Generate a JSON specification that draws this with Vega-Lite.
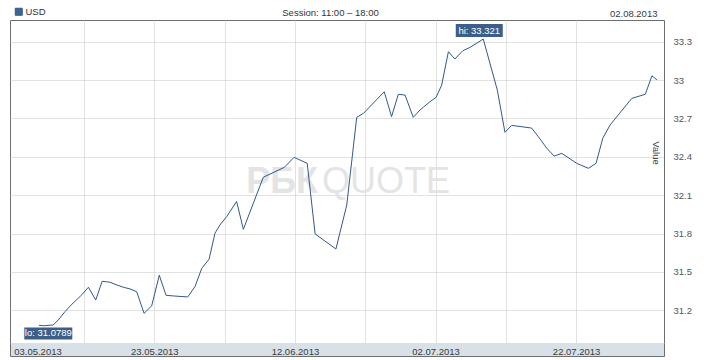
{
  "$schema": "https://vega.github.io/schema/vega-lite/v6.json",
  "width": 654,
  "height": 323,
  "autosize": {"type": "none"},
  "padding": {"left": 10, "top": 20, "right": 54, "bottom": 17},
  "background": "#ffffff",
  "title": {"text": "Session: 11:00 – 18:00", "frame": "group", "anchor": "middle", "fontSize": 9.5, "fontWeight": "normal", "color": "#333333", "baseline": "alphabetic", "offset": 4, "dx": -6.5, "dy": 26, "font": "Liberation Sans"},
  "config": {
    "font": "Liberation Sans",
    "view": {"stroke": "#6e6e6e", "strokeWidth": 1, "fill": "#ffffff"},
    "axis": {"labelFontSize": 9.5, "labelColor": "#3a3a3a", "labelFont": "Liberation Sans", "gridColor": "#c4c4c4", "gridDash": [1, 1], "gridWidth": 1, "ticks": false, "domain": false, "labelOverlap": false}
  },
  "datasets": {
    "usd": [
      {"date": "2013-05-06T14:00", "value": 31.083, "series": "USD"},
      {"date": "2013-05-07T05:00", "value": 31.0789, "series": "USD"},
      {"date": "2013-05-08T15:00", "value": 31.085, "series": "USD"},
      {"date": "2013-05-09T08:00", "value": 31.124, "series": "USD"},
      {"date": "2013-05-10T07:00", "value": 31.189, "series": "USD"},
      {"date": "2013-05-11T04:00", "value": 31.241, "series": "USD"},
      {"date": "2013-05-12T16:00", "value": 31.32, "series": "USD"},
      {"date": "2013-05-13T15:00", "value": 31.38, "series": "USD"},
      {"date": "2013-05-14T16:00", "value": 31.28, "series": "USD"},
      {"date": "2013-05-15T14:00", "value": 31.427, "series": "USD"},
      {"date": "2013-05-16T17:00", "value": 31.419, "series": "USD"},
      {"date": "2013-05-17T10:00", "value": 31.403, "series": "USD"},
      {"date": "2013-05-18T14:00", "value": 31.38, "series": "USD"},
      {"date": "2013-05-19T13:00", "value": 31.367, "series": "USD"},
      {"date": "2013-05-20T12:00", "value": 31.345, "series": "USD"},
      {"date": "2013-05-21T13:00", "value": 31.176, "series": "USD"},
      {"date": "2013-05-22T15:00", "value": 31.234, "series": "USD"},
      {"date": "2013-05-23T17:00", "value": 31.474, "series": "USD"},
      {"date": "2013-05-24T16:00", "value": 31.317, "series": "USD"},
      {"date": "2013-05-25T17:00", "value": 31.312, "series": "USD"},
      {"date": "2013-05-27T18:00", "value": 31.304, "series": "USD"},
      {"date": "2013-05-28T19:00", "value": 31.385, "series": "USD"},
      {"date": "2013-05-29T18:00", "value": 31.528, "series": "USD"},
      {"date": "2013-05-30T19:00", "value": 31.599, "series": "USD"},
      {"date": "2013-05-31T15:00", "value": 31.802, "series": "USD"},
      {"date": "2013-06-01T08:00", "value": 31.867, "series": "USD"},
      {"date": "2013-06-02T07:00", "value": 31.932, "series": "USD"},
      {"date": "2013-06-03T17:00", "value": 32.051, "series": "USD"},
      {"date": "2013-06-04T16:00", "value": 31.833, "series": "USD"},
      {"date": "2013-06-07T12:00", "value": 32.24, "series": "USD"},
      {"date": "2013-06-10T12:00", "value": 32.318, "series": "USD"},
      {"date": "2013-06-11T21:00", "value": 32.396, "series": "USD"},
      {"date": "2013-06-13T18:00", "value": 32.349, "series": "USD"},
      {"date": "2013-06-14T21:00", "value": 31.797, "series": "USD"},
      {"date": "2013-06-17T20:00", "value": 31.679, "series": "USD"},
      {"date": "2013-06-19T09:00", "value": 32.023, "series": "USD"},
      {"date": "2013-06-20T19:00", "value": 32.709, "series": "USD"},
      {"date": "2013-06-21T18:00", "value": 32.74, "series": "USD"},
      {"date": "2013-06-24T17:00", "value": 32.909, "series": "USD"},
      {"date": "2013-06-25T18:00", "value": 32.714, "series": "USD"},
      {"date": "2013-06-26T17:00", "value": 32.889, "series": "USD"},
      {"date": "2013-06-27T16:00", "value": 32.883, "series": "USD"},
      {"date": "2013-06-28T20:00", "value": 32.709, "series": "USD"},
      {"date": "2013-06-29T19:00", "value": 32.766, "series": "USD"},
      {"date": "2013-07-01T05:00", "value": 32.831, "series": "USD"},
      {"date": "2013-07-02T02:00", "value": 32.865, "series": "USD"},
      {"date": "2013-07-02T21:00", "value": 32.961, "series": "USD"},
      {"date": "2013-07-03T20:00", "value": 33.222, "series": "USD"},
      {"date": "2013-07-04T18:00", "value": 33.165, "series": "USD"},
      {"date": "2013-07-05T21:00", "value": 33.23, "series": "USD"},
      {"date": "2013-07-06T22:00", "value": 33.256, "series": "USD"},
      {"date": "2013-07-08T19:00", "value": 33.321, "series": "USD"},
      {"date": "2013-07-10T19:00", "value": 32.922, "series": "USD"},
      {"date": "2013-07-11T21:00", "value": 32.592, "series": "USD"},
      {"date": "2013-07-12T20:00", "value": 32.646, "series": "USD"},
      {"date": "2013-07-15T16:00", "value": 32.625, "series": "USD"},
      {"date": "2013-07-16T15:00", "value": 32.557, "series": "USD"},
      {"date": "2013-07-17T20:00", "value": 32.467, "series": "USD"},
      {"date": "2013-07-18T21:00", "value": 32.406, "series": "USD"},
      {"date": "2013-07-19T23:00", "value": 32.427, "series": "USD"},
      {"date": "2013-07-22T02:00", "value": 32.349, "series": "USD"},
      {"date": "2013-07-23T18:00", "value": 32.31, "series": "USD"},
      {"date": "2013-07-24T20:00", "value": 32.349, "series": "USD"},
      {"date": "2013-07-25T19:00", "value": 32.545, "series": "USD"},
      {"date": "2013-07-26T20:00", "value": 32.649, "series": "USD"},
      {"date": "2013-07-29T22:00", "value": 32.857, "series": "USD"},
      {"date": "2013-07-31T20:00", "value": 32.889, "series": "USD"},
      {"date": "2013-08-01T19:00", "value": 33.034, "series": "USD"},
      {"date": "2013-08-02T12:00", "value": 33.001, "series": "USD"}
    ],
    "extremes": [
      {"date": "2013-07-08T19:00", "value": 33.321, "kind": "hi", "label": "hi: 33.321"},
      {"date": "2013-05-07T05:00", "value": 31.0789, "kind": "lo", "label": "lo: 31.0789"}
    ],
    "brand": [
      {"brand": "РБК", "product": "QUOTE"}
    ]
  },
  "layer": [
    {
      "data": {"name": "brand"},
      "mark": {"type": "text", "font": "Liberation Sans Narrow, Liberation Sans", "fontWeight": "bold", "fontSize": 36, "color": "#e4e4e4", "align": "right", "baseline": "middle", "dx": -19},
      "encoding": {"text": {"field": "brand"}}
    },
    {
      "data": {"name": "brand"},
      "mark": {"type": "text", "font": "Liberation Sans Narrow, Liberation Sans", "fontWeight": "normal", "fontSize": 36, "color": "#e4e4e4", "align": "left", "baseline": "middle", "dx": -15},
      "encoding": {"text": {"field": "product"}}
    },
    {
      "data": {"name": "extremes"},
      "transform": [{"filter": "datum.kind == 'hi'"}],
      "mark": {"type": "rect", "width": 47, "height": 13, "xOffset": -4, "yOffset": -8.5, "color": "#3b5f88"},
      "encoding": {
        "x": {"field": "date", "type": "temporal", "scale": {"domain": [{"year": 2013, "month": 5, "date": 2, "hours": 11, "minutes": 22}, {"year": 2013, "month": 8, "date": 3, "hours": 12}], "nice": false},
          "axis": {"orient": "bottom", "offset": 6, "domain": true, "domainColor": "#d8e0e8", "domainWidth": 13, "labels": false, "ticks": false, "grid": false, "title": null}},
        "y": {"field": "value", "type": "quantitative", "scale": {"domain": [30.944, 33.47], "nice": false, "zero": false},
          "axis": {"orient": "right", "values": [31.2, 31.5, 31.8, 32.1, 32.4, 32.7, 33, 33.3], "format": "~g", "grid": false, "labelPadding": 9, "labelAlign": "left", "labelBaseline": "middle", "labelColor": "#555555", "labelFlush": false, "title": "Value", "titleAngle": 90, "titleX": -8.5, "titleY": 132.5, "titleAlign": "center", "titleBaseline": "middle", "titleFontWeight": "normal", "titleFontSize": 9.5, "titleColor": "#444444", "titleFont": "Liberation Sans"}}
      }
    },
    {
      "data": {"name": "extremes"},
      "transform": [{"filter": "datum.kind == 'lo'"}],
      "mark": {"type": "rect", "width": 48, "height": 12, "xOffset": 5, "yOffset": 7.7, "color": "#3b5f88"},
      "encoding": {
        "x": {"field": "date", "type": "temporal", "scale": {"domain": [{"year": 2013, "month": 5, "date": 2, "hours": 11, "minutes": 22}, {"year": 2013, "month": 8, "date": 3, "hours": 12}], "nice": false},
          "axis": {"orient": "bottom", "offset": 13, "domain": true, "domainColor": "#6e6e6e", "domainWidth": 1, "ticks": true, "tickSize": -13, "tickColor": "#6e6e6e", "values": [{"year": 2013, "month": 5, "date": 2, "hours": 11, "minutes": 22}, {"year": 2013, "month": 8, "date": 3, "hours": 12}], "labels": false, "grid": false, "title": null}},
        "y": {"field": "value", "type": "quantitative", "scale": {"domain": [30.944, 33.47], "nice": false, "zero": false},
          "axis": {"orient": "left", "values": [31.2, 31.5, 31.8, 32.1, 32.4, 32.7, 33, 33.3], "grid": true, "labels": false, "ticks": false, "domain": false, "title": null}}
      }
    },
    {
      "data": {"name": "usd"},
      "mark": {"type": "line", "strokeWidth": 1, "interpolate": "linear"},
      "encoding": {
        "x": {"field": "date", "type": "temporal", "scale": {"domain": [{"year": 2013, "month": 5, "date": 2, "hours": 11, "minutes": 22}, {"year": 2013, "month": 8, "date": 3, "hours": 12}], "nice": false},
          "axis": {"orient": "bottom", "values": [{"year": 2013, "month": 5, "date": 13}, {"year": 2013, "month": 5, "date": 23}, {"year": 2013, "month": 6, "date": 2}, {"year": 2013, "month": 6, "date": 12}, {"year": 2013, "month": 6, "date": 22}, {"year": 2013, "month": 7, "date": 2}, {"year": 2013, "month": 7, "date": 12}, {"year": 2013, "month": 7, "date": 22}], "grid": true, "labels": false, "ticks": false, "title": null}},
        "y": {"field": "value", "type": "quantitative", "scale": {"domain": [30.944, 33.47], "nice": false, "zero": false}, "axis": null},
        "color": {"field": "series", "type": "nominal", "scale": {"range": ["#33598a"]},
          "legend": {"orient": "top", "title": null, "symbolType": "square", "symbolSize": 49, "symbolFillColor": "#3d6590", "symbolStrokeWidth": 1, "labelFontSize": 9.5, "labelColor": "#333333", "labelFont": "Liberation Sans", "labelOffset": 2, "padding": 4, "offset": -13.5}}
      }
    },
    {
      "data": {"name": "extremes"},
      "transform": [{"filter": "datum.kind == 'hi'"}],
      "mark": {"type": "text", "color": "#ffffff", "fontSize": 9.5, "align": "center", "baseline": "middle", "dx": -4, "dy": -8.5},
      "encoding": {
        "x": {"field": "date", "type": "temporal", "scale": {"domain": [{"year": 2013, "month": 5, "date": 2, "hours": 11, "minutes": 22}, {"year": 2013, "month": 8, "date": 3, "hours": 12}], "nice": false},
          "axis": {"orient": "bottom", "values": [{"year": 2013, "month": 5, "date": 3}, {"year": 2013, "month": 5, "date": 23}, {"year": 2013, "month": 6, "date": 12}, {"year": 2013, "month": 7, "date": 2}, {"year": 2013, "month": 7, "date": 22}], "format": "%d.%m.%Y", "labelFlush": 6, "labelPadding": 11, "labelBaseline": "alphabetic", "grid": false, "title": null}},
        "y": {"field": "value", "type": "quantitative", "scale": {"domain": [30.944, 33.47], "nice": false, "zero": false}, "axis": null},
        "text": {"field": "label"}
      }
    },
    {
      "data": {"name": "extremes"},
      "transform": [{"filter": "datum.kind == 'lo'"}],
      "mark": {"type": "text", "color": "#ffffff", "fontSize": 9.5, "align": "center", "baseline": "middle", "dx": 5, "dy": 7.7},
      "encoding": {
        "x": {"field": "date", "type": "temporal", "scale": {"domain": [{"year": 2013, "month": 5, "date": 2, "hours": 11, "minutes": 22}, {"year": 2013, "month": 8, "date": 3, "hours": 12}], "nice": false},
          "axis": {"orient": "top", "values": [{"year": 2013, "month": 8, "date": 2, "hours": 12}], "format": "%d.%m.%Y", "labelAlign": "right", "labelBaseline": "alphabetic", "labelPadding": 4, "labelFlush": false, "grid": false, "title": null}},
        "y": {"field": "value", "type": "quantitative", "scale": {"domain": [30.944, 33.47], "nice": false, "zero": false}, "axis": null},
        "text": {"field": "label"}
      }
    }
  ],
  "resolve": {"axis": {"x": "independent", "y": "independent"}}
}
